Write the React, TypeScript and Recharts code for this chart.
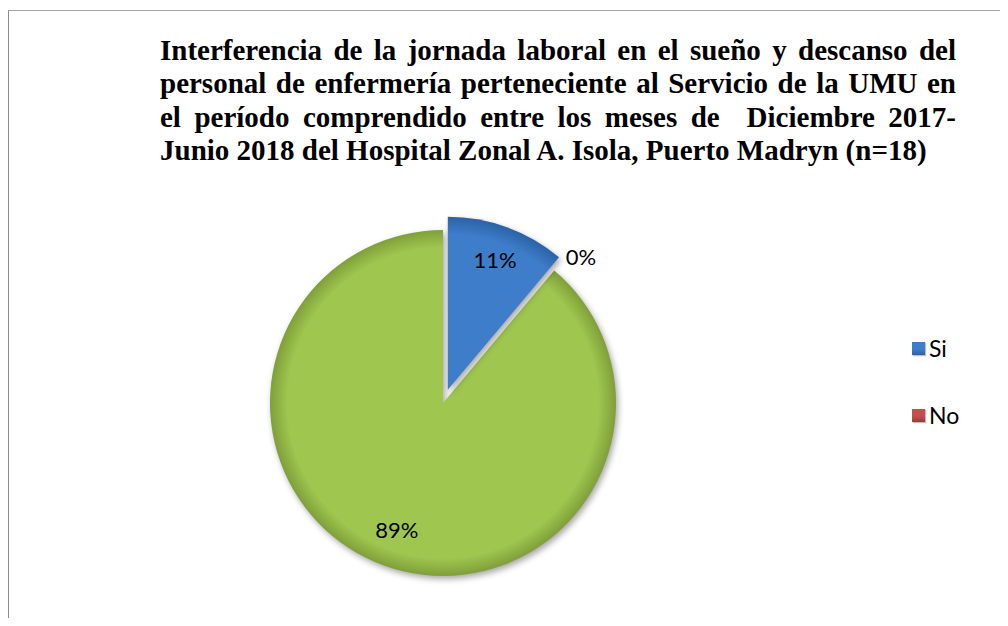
import { PieChart, Pie, Cell, Legend } from "recharts";

const categories = ["Si", "No", "A veces"];
const values = [2, 0, 16];
const colors = ["#3d7dc9", "#c0504d", "#9fc64f"];
const rimColors = ["#2c62a6", "#983c39", "#7f9f3a"];
const legendItems = ["Si", "No"];
const titleLines = [
  "Interferencia de la jornada laboral en el sueño y descanso del",
  "personal de enfermería perteneciente al Servicio de la UMU en",
  "el período comprendido entre los meses de  Diciembre 2017-",
  "Junio 2018 del Hospital Zonal A. Isola, Puerto Madryn (n=18)",
];

const data = categories.map((name, i) => ({ name, value: values[i] }));
const total = values.reduce((a, b) => a + b, 0);

const RAD = Math.PI / 180;
const CX = 443;
const CY = 403;
const R = 173;
const EXPLODE = 14;

// explode the first slice along its mid angle
const firstMid = 90 - (360 * (values[0] / 2)) / total;
const exX = EXPLODE * Math.cos(firstMid * RAD);
const exY = -EXPLODE * Math.sin(firstMid * RAD);

const labelStyle = { fontFamily: "Lato, 'Open Sans', sans-serif", fontSize: 22, fill: "#000" };

function pct(p: number) {
  return `${Math.round(p * 100)}%`;
}

function baseLabel(props: any) {
  const { cx, cy, midAngle, outerRadius, percent, index } = props;
  if (index === 0) return null;
  const outside = index === 1;
  const r = outside ? outerRadius + 18 : outerRadius * 0.78;
  const x = cx + r * Math.cos(-midAngle * RAD);
  const y = cy + r * Math.sin(-midAngle * RAD);
  return (
    <text
      key={`l-${index}`}
      x={x}
      y={y}
      textAnchor={outside ? "start" : "middle"}
      dominantBaseline="central"
      {...labelStyle}
    >
      {pct(percent)}
    </text>
  );
}

function explodedLabel(props: any) {
  const { cx, cy, midAngle, outerRadius, percent, index } = props;
  if (index !== 0) return null;
  const r = outerRadius * 0.8;
  const x = cx + r * Math.cos(-midAngle * RAD);
  const y = cy + r * Math.sin(-midAngle * RAD);
  return (
    <text key={`e-${index}`} x={x} y={y} textAnchor="middle" dominantBaseline="central" {...labelStyle}>
      {pct(percent)}
    </text>
  );
}

function LegendBox() {
  return (
    <div style={{ fontFamily: "Lato, 'Open Sans', sans-serif", fontSize: 23 }}>
      {legendItems.map((name, i) => (
        <div key={name} style={{ display: "flex", alignItems: "center", height: 26, marginBottom: i === 0 ? 41 : 0 }}>
          <span
            style={{
              display: "inline-block",
              width: 13,
              height: 13,
              marginRight: 4,
              background: `linear-gradient(180deg, ${colors[i]} 0%, ${colors[i]} 55%, ${rimColors[i]} 100%)`,
              boxShadow: "1px 1px 1px rgba(0,0,0,0.25)",
            }}
          />
          <span>{name}</span>
        </div>
      ))}
    </div>
  );
}

const sliceStyle = { filter: "drop-shadow(2px 3px 3px rgba(0,0,0,0.35))" };

export default function App() {
  return (
    <div style={{ position: "relative", margin: -8, width: 1008, height: 626, overflow: "hidden", background: "#fff" }}>
      <div
        style={{
          position: "absolute",
          left: 7,
          top: 10,
          width: 1100,
          height: 700,
          borderLeft: "2px solid #8c8c8c",
          borderTop: "1px solid #a6a6a6",
        }}
      />
      <div
        style={{
          position: "absolute",
          left: 160,
          top: 34,
          width: 796,
          fontFamily: "'Liberation Serif', 'Times New Roman', serif",
          fontWeight: "bold",
          fontSize: 29,
          lineHeight: "33.3px",
          color: "#000",
        }}
      >
        {titleLines.map((line, i) => (
          <div
            key={i}
            style={{
              textAlign: i < titleLines.length - 1 ? "justify" : "left",
              textAlignLast: i < titleLines.length - 1 ? "justify" : "left",
              whiteSpace: i < titleLines.length - 1 ? "pre-wrap" : "nowrap",
            }}
          >
            {line}
          </div>
        ))}
      </div>
      <div style={{ position: "absolute", left: 0, top: 0 }}>
        <PieChart width={1008} height={626} margin={{ top: 0, right: 0, bottom: 0, left: 0 }}>
          <defs>
            {colors.map((c, i) => (
              <radialGradient
                key={`g-${i}`}
                id={`rim-${i}`}
                gradientUnits="userSpaceOnUse"
                cx={i === 0 ? CX + exX : CX}
                cy={i === 0 ? CY + exY : CY}
                r={R}
              >
                <stop offset="0%" stopColor={c} />
                <stop offset="90%" stopColor={c} />
                <stop offset="100%" stopColor={rimColors[i]} />
              </radialGradient>
            ))}
          </defs>
          <Pie
            data={data}
            dataKey="value"
            nameKey="name"
            cx={CX}
            cy={CY}
            outerRadius={R}
            startAngle={90}
            endAngle={-270}
            stroke="none"
            label={baseLabel}
            labelLine={false}
            isAnimationActive={false}
          >
            {data.map((d, i) => (
              <Cell
                key={`a-${i}`}
                fill={`url(#rim-${i})`}
                fillOpacity={i === 0 ? 0 : 1}
                style={i === 0 ? undefined : sliceStyle}
              />
            ))}
          </Pie>
          <Pie
            data={data}
            dataKey="value"
            nameKey="name"
            cx={CX + exX}
            cy={CY + exY}
            outerRadius={R}
            startAngle={90}
            endAngle={-270}
            stroke="none"
            label={explodedLabel}
            labelLine={false}
            isAnimationActive={false}
          >
            {data.map((d, i) => (
              <Cell
                key={`b-${i}`}
                fill={`url(#rim-${i})`}
                fillOpacity={i === 0 ? 1 : 0}
                style={i === 0 ? sliceStyle : undefined}
              />
            ))}
          </Pie>
          <Legend content={<LegendBox />} wrapperStyle={{ position: "absolute", left: 912, top: 335, width: 90 }} />
        </PieChart>
      </div>
    </div>
  );
}
